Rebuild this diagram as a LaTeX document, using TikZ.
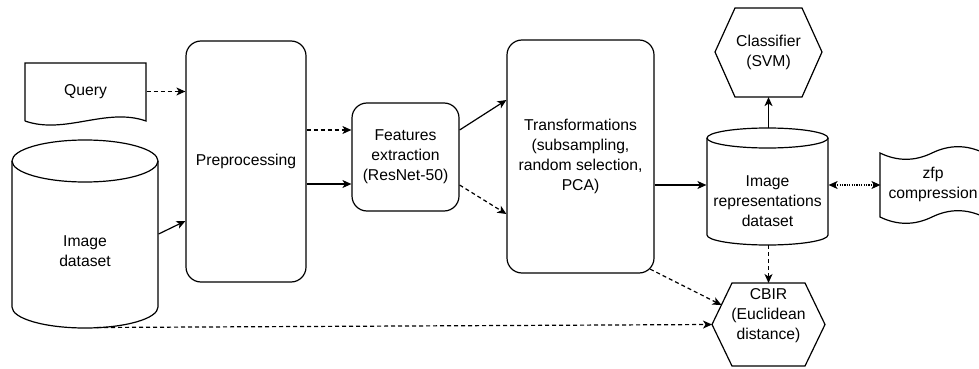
\documentclass[tikz,border=0pt]{standalone}
\usepackage{fontspec}
\setmainfont{Liberation Sans}
\usetikzlibrary{arrows.meta}
\begin{document}
\begin{tikzpicture}[x=1pt,y=-1pt,
  line width=1.2pt,
  lbl/.style={font=\fontsize{15.7}{20}\selectfont, align=center, inner sep=0pt},
  rbox/.style={lbl, draw, rounded corners=15pt},
  arr/.style={-{Stealth[length=9pt,width=8pt,inset=2.5pt]}},
  dasharr/.style={arr, dash pattern=on 4pt off 3pt},
  dotarr/.style={{Stealth[length=9pt,width=8pt,inset=2.5pt]}-{Stealth[length=9pt,width=8pt,inset=2.5pt]}, dash pattern=on 1.2pt off 1.2pt}
]
\useasboundingbox (0,0) rectangle (979,369);

% Query (document shape)
\draw (25,121) -- (25,63) -- (146,63) -- (146,121) .. controls (106,107) and (65,135) .. (25,121);
\node[lbl, minimum width=121pt, minimum height=57pt] (query) at (85.5,91.5) {Query};

% Image dataset (cylinder)
\draw (12,161) -- (12,307) arc[start angle=180, end angle=360, x radius=73pt, y radius=21pt] -- (158,161);
\draw (85,161) ellipse [x radius=73pt, y radius=21pt];
\node[lbl, minimum width=146pt] (idata) at (85,251) {Image\\dataset};
\coordinate (idbot) at (97,327.5);

% Preprocessing
\node[rbox, minimum width=120pt, minimum height=241pt] (pre) at (246,161.5) {Preprocessing};

% Features extraction
\node[rbox, minimum width=107pt, minimum height=108pt] (feat) at (405.5,157) {Features\\extraction\\(ResNet-50)};

% Transformations
\node[rbox, minimum width=147pt, minimum height=233pt] (trans) at (580.5,156.5) {Transformations\\(subsampling,\\random selection,\\PCA)};

% Image representations dataset (cylinder)
\draw (707,138) -- (707,235) arc[start angle=180, end angle=360, x radius=60.5pt, y radius=10pt] -- (828,138);
\draw (767.5,138) ellipse [x radius=60.5pt, y radius=10pt];
\node[lbl, minimum width=121pt] (reps) at (767.5,201) {Image\\representations\\dataset};
\coordinate (repsTop) at (768.5,128);
\coordinate (repsBot) at (768.5,245);

% Classifier (hexagon)
\draw (715,52) -- (735,8) -- (802,8) -- (822,52) -- (802,97) -- (735,97) -- cycle;
\node[lbl, minimum width=107pt, minimum height=89pt] (cls) at (768.5,52) {Classifier\\(SVM)};

% CBIR (hexagon)
\draw (712,324.5) -- (732,283) -- (805,283) -- (825,324.5) -- (805,366) -- (732,366) -- cycle;
\node[lbl] (cbir) at (768.5,316) {CBIR\\(Euclidean\\distance)};
\coordinate (cbirL) at (712,324.5);
\coordinate (cbirTop) at (768.5,283);
\coordinate (cbirUL) at (721.5,305);

% zfp compression (tape)
\begin{scope}
\clip (0,0) rectangle (979,369);
\draw (880,153) .. controls (897.3,161.4) and (914.7,161.4) .. (932,153)
      .. controls (949.3,144.6) and (966.7,144.6) .. (984,153)
      -- (984,217)
      .. controls (966.7,208.6) and (949.3,208.6) .. (932,217)
      .. controls (914.7,225.4) and (897.3,225.4) .. (880,217) -- cycle;
\end{scope}
\node[lbl, minimum width=104pt] (zfp) at (933,184) {zfp\\compression};

% connectors
\draw[dasharr] (query.east) -- (query.east -| pre.west);
\draw[arr] ([yshift=17pt]idata.east) -- ([yshift=-59.5pt]pre.west);
\draw[dasharr] ([yshift=27pt]feat.west -| pre.east) -- ([yshift=27pt]feat.west);
\draw[arr] ([yshift=-27pt]feat.west -| pre.east) -- ([yshift=-27pt]feat.west);
\draw[arr] ([yshift=27pt]feat.east) -- ([yshift=56.5pt]trans.west);
\draw[dasharr] ([yshift=-28pt]feat.east) -- ([yshift=-57.5pt]trans.west);
\draw[arr] ([yshift=-28.5pt]trans.east) -- ([yshift=-28.5pt]trans.east -| reps.west);
\draw[dotarr] ([yshift=16pt]reps.east) -- ([yshift=16pt]reps.east -| zfp.west);
\draw[arr] (repsTop) -- (cls.south);
\draw[dasharr] (repsBot) -- (cbirTop);
\draw[dasharr] ([xshift=-4.5pt,yshift=4.5pt]trans.south east) -- (cbirUL);
\draw[dasharr] (idbot) -- (cbirL);
\end{tikzpicture}
\end{document}
